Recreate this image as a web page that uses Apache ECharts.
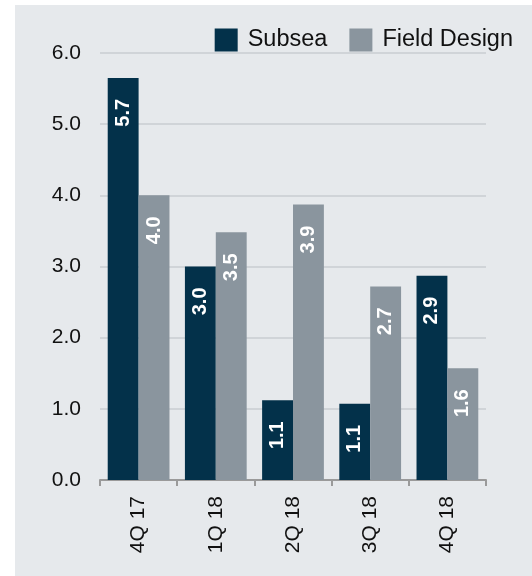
<!DOCTYPE html>
<html>
<head>
<meta charset="utf-8">
<script src="https://cdn.jsdelivr.net/npm/echarts@6/dist/echarts.min.js"></script>
<style>
  html, body { margin: 0; padding: 0; background: #ffffff; }
  #chart-container {
    position: absolute; left: 15px; top: 5px;
    width: 517px; height: 571px; background-color: #e6e9ec;
  }
</style>
</head>
<body>
<div id="chart-container"></div>
<script>
const categories = ["4Q 17", "1Q 18", "2Q 18", "3Q 18", "4Q 18"];
const subseaData = [5.65, 3.0, 1.12, 1.07, 2.87];
const fieldDesignData = [4.0, 3.48, 3.87, 2.72, 1.57];
const yTicks = [0, 1, 2, 3, 4, 5, 6];

const chart = echarts.init(document.getElementById("chart-container"));

const barLabel = {
  show: true,
  position: "insideTop",
  distance: 21,
  rotate: 90,
  align: "right",
  verticalAlign: "middle",
  color: "#ffffff",
  fontWeight: "bold",
  fontSize: 20,
  fontFamily: "Liberation Sans, Arial",
  formatter: (p) => p.value.toFixed(1),
};

const option = {
  animation: false,
  textStyle: { fontFamily: "Liberation Sans, Arial" },
  legend: {
    data: ["Subsea", "Field Design"],
    top: 18,
    right: 14,
    itemWidth: 23,
    itemHeight: 23,
    itemGap: 22,
    icon: "rect",
    textStyle: { fontSize: 23.5, color: "#111", padding: [0, 0, 0, 5] },
  },
  grid: {
    left: 85,
    right: 46,
    top: 48,
    bottom: 96,
  },
  xAxis: {
    type: "category",
    data: categories,
    axisLine: { lineStyle: { color: "#9a9a9a", width: 2 } },
    axisTick: { show: true, length: 6, lineStyle: { color: "#9a9a9a", width: 2 } },
    axisLabel: { rotate: 90, fontSize: 21, color: "#111", margin: 16 },
  },
  yAxis: {
    type: "value",
    min: yTicks[0],
    max: yTicks[yTicks.length - 1],
    interval: 1,
    axisLine: { show: false },
    axisTick: { show: false },
    splitLine: { lineStyle: { color: "#d0d4d8", width: 2 } },
    axisLabel: {
      fontSize: 21,
      color: "#111",
      margin: 19,
      formatter: (v) => v.toFixed(1),
    },
  },
  series: [
    {
      name: "Subsea",
      type: "bar",
      data: subseaData,
      barGap: "0%",
      barCategoryGap: "20%",
      itemStyle: { color: "#03314a" },
      label: barLabel,
    },
    {
      name: "Field Design",
      type: "bar",
      data: fieldDesignData,
      itemStyle: { color: "#8a959e" },
      label: barLabel,
    },
  ],
};

chart.setOption(option);
</script>
</body>
</html>
